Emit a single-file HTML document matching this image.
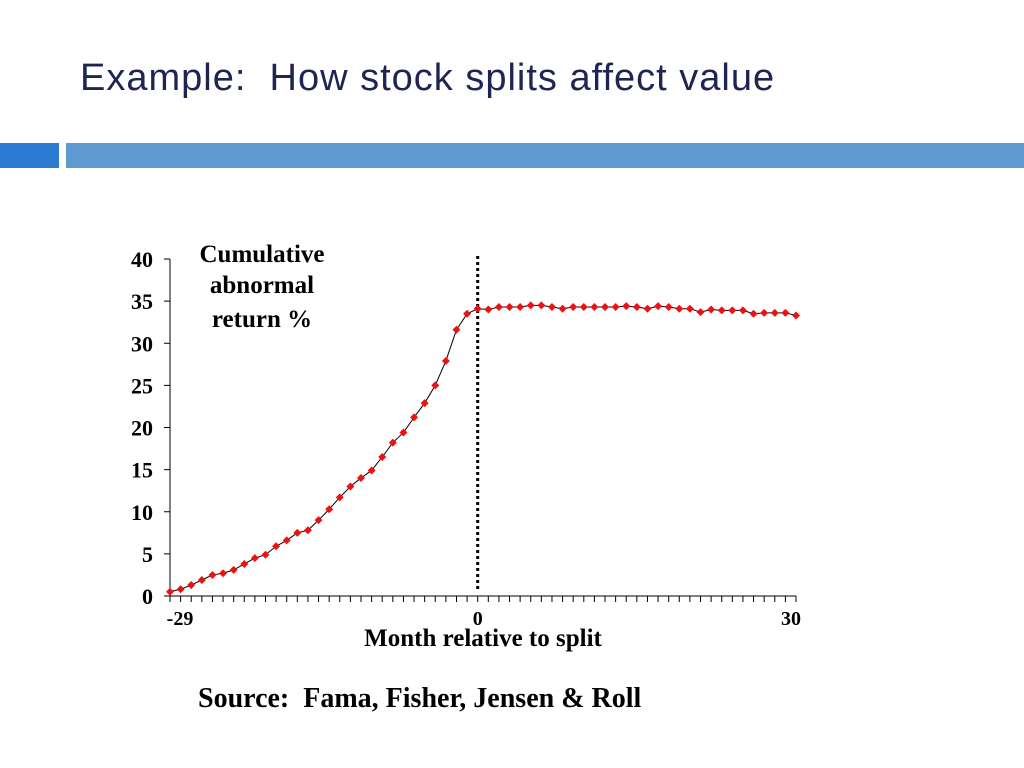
<!DOCTYPE html>
<html><head><meta charset="utf-8"><style>
body{margin:0;width:1024px;height:768px;background:#fff;overflow:hidden;position:relative;font-family:"Liberation Sans",sans-serif}
#title{position:absolute;left:80px;top:57px;font-size:38px;color:#1f2553;white-space:nowrap;letter-spacing:1.0px}
.bar{position:absolute;top:143px;height:25px}
</style></head><body>
<div id="title">Example:&nbsp; How stock splits affect value</div>
<div class="bar" style="left:0;width:59px;background:#2b7bd3"></div>
<div class="bar" style="left:66px;width:958px;background:#5f9bd0"></div>
<svg id="chart" width="1024" height="768" style="position:absolute;left:0;top:0"></svg>
<script>
const months=[];for(let m=-29;m<=30;m++)months.push(m);
const car=[0.5,0.8,1.3,1.9,2.5,2.7,3.1,3.8,4.5,4.9,5.9,6.6,7.5,7.8,9.0,10.3,11.7,13.0,14.0,14.9,16.5,18.2,19.4,21.2,22.9,25.0,27.9,31.6,33.5,34.1,
34.0,34.3,34.3,34.3,34.5,34.5,34.3,34.1,34.3,34.3,34.3,34.3,34.3,34.4,34.3,34.1,34.4,34.3,34.1,34.1,33.7,34.0,33.9,33.9,33.9,33.5,33.6,33.6,33.6,33.3];
const yTicks=[0,5,10,15,20,25,30,35,40];
const xLabels=[-29,0,30];
const NS="http://www.w3.org/2000/svg";
const svg=document.getElementById('chart');
const X=m=>170+(m+29)*(796-170)/59;
const Y=v=>596-v*(596-259)/40;
function mk(t,a,p){const e=document.createElementNS(NS,t);for(const k in a)e.setAttribute(k,a[k]);(p||svg).appendChild(e);return e;}
const font='"Liberation Serif",serif';
let e=mk('line',{x1:170,y1:Y(40),x2:170,y2:596,stroke:'#000','stroke-width':1});


e=mk('line',{x1:170,y1:596,x2:X(30),y2:596,stroke:'#000','stroke-width':1});


yTicks.forEach(v=>{
 let t=mk('line',{x1:164,y1:Y(v),x2:170,y2:Y(v),stroke:'#000'});
 
 
 let l=mk('text',{x:153,y:Y(v)+8,'text-anchor':'end','font-family':font,'font-weight':'bold','font-size':22});
 l.textContent=v;
 
 
});
months.forEach(m=>{
 let t=mk('line',{x1:X(m),y1:596,x2:X(m),y2:602,stroke:'#000'});
 
 
});
xLabels.forEach(m=>{
 let l=mk('text',{x:X(m)+(m===-29?10:(m===30?-5:0)),y:625,'text-anchor':'middle','font-family':font,'font-weight':'bold','font-size':20});
 l.textContent=m;
 
 
});
e=mk('line',{x1:X(0),y1:256,x2:X(0),y2:590,stroke:'#000','stroke-width':3,'stroke-dasharray':'3,3'});


e=mk('polyline',{points:months.map((m,i)=>X(m)+','+Y(car[i])).join(' '),fill:'none',stroke:'#000','stroke-width':1});


months.forEach((m,i)=>{
 const x=X(m),y=Y(car[i]);
 let p=mk('polygon',{points:`${x},${y-4} ${x+4},${y} ${x},${y+4} ${x-4},${y}`,fill:'#ee1111'});
 
 
});
[['Cumulative',262],['abnormal',293],['return %',327]].forEach(([s,y],i)=>{
 let l=mk('text',{x:262,y:y,'text-anchor':'middle','font-family':font,'font-weight':'bold','font-size':25});
 l.textContent=s;
 
 
});
e=mk('text',{x:483,y:646,'text-anchor':'middle','font-family':font,'font-weight':'bold','font-size':25});
e.textContent='Month relative to split';


e=mk('text',{x:198,y:707,'font-family':font,'font-weight':'bold','font-size':28});
e.textContent='Source:\u00a0 Fama, Fisher, Jensen & Roll';


</script>
</body></html>
